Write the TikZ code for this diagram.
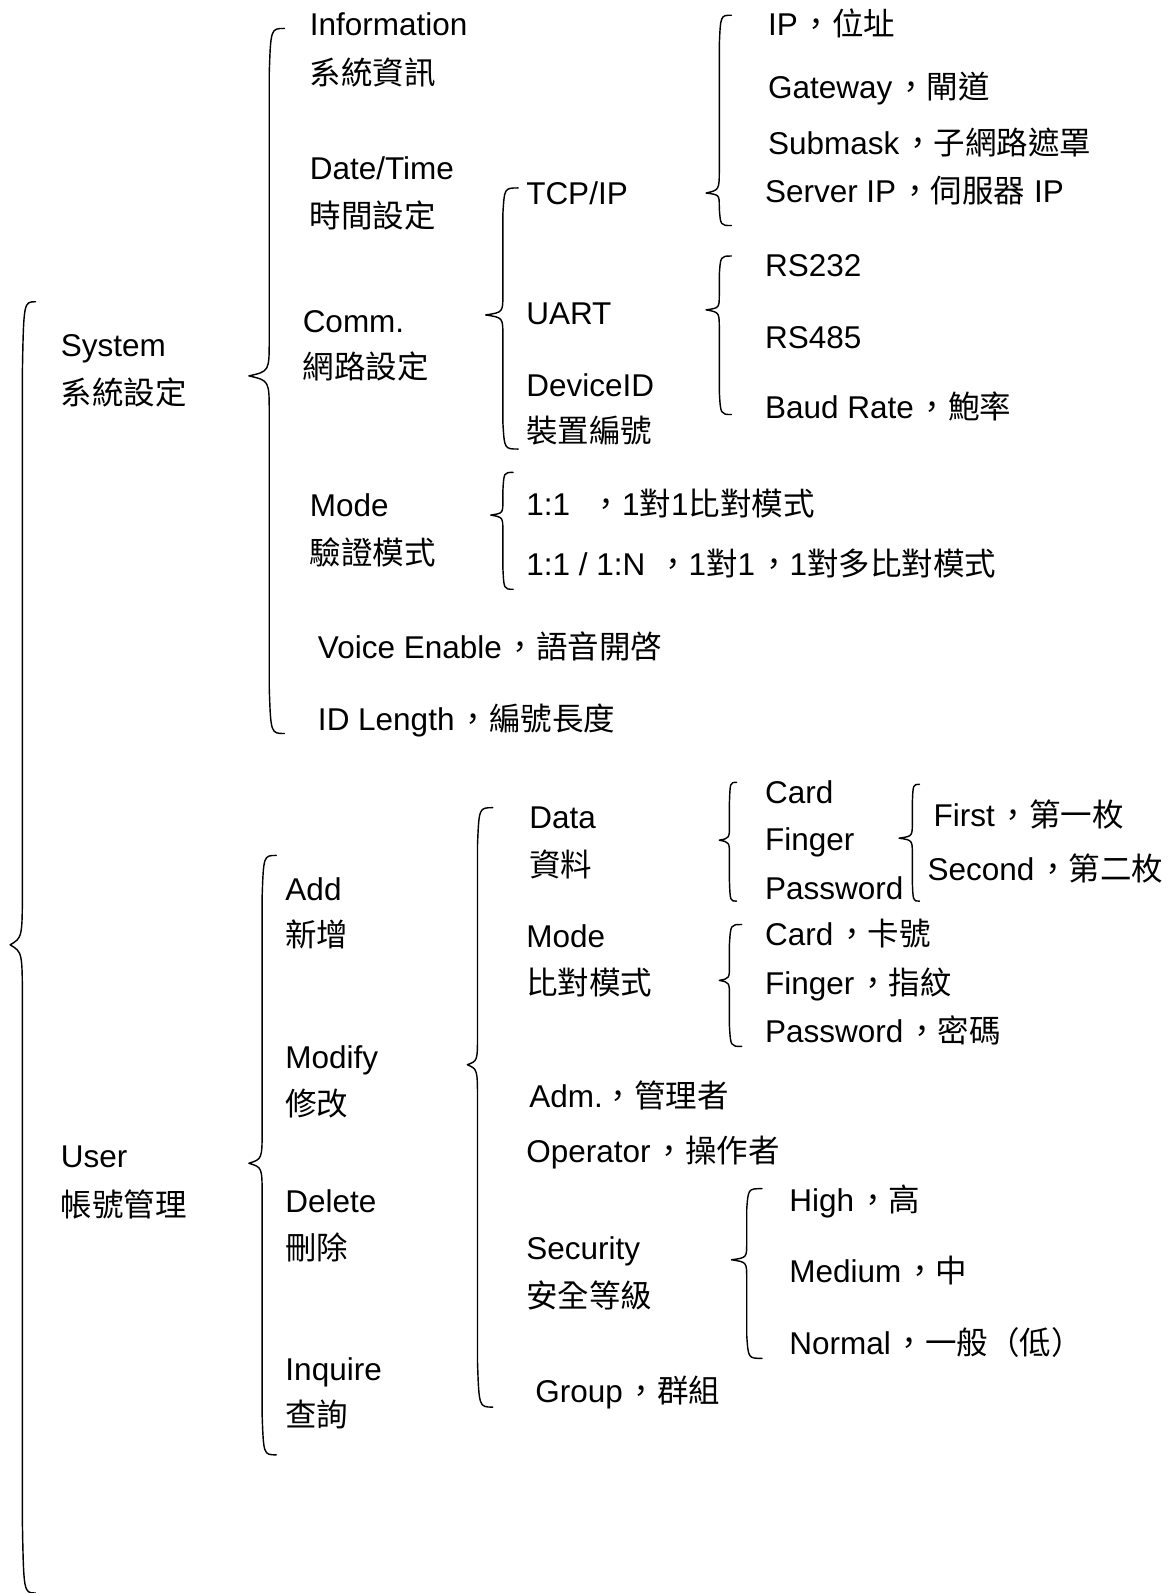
\documentclass[tikz,border=0pt]{standalone}
\usepackage{fontspec}
\setmainfont{Liberation Sans}
\newfontfamily\cjk{Noto Sans CJK TC}
\newcommand\zh[1]{{\cjk #1}}
\newcommand\cm{\kern3pt{\cjk ，}}
\newcommand\bracel[6]{% #1 line x, #2 top, #3 tip, #4 bottom, #5 hook width, #6 tip depth
  \pgfmathsetmacro\bra{14+0.09*(#3-#2)}%
  \pgfmathsetmacro\brb{14+0.09*(#4-#3)}%
  \draw[bracestyle] (#1+#5,#2) .. controls (#1+0.1*#5,#2) .. (#1,#2+\bra) -- (#1,#3-0.8*\bra)
     .. controls (#1,#3-0.1*\bra) .. (#1-#6,#3) .. controls (#1,#3+0.1*\brb) .. (#1,#3+0.8*\brb)
     -- (#1,#4-\brb) .. controls (#1+0.1*#5,#4) .. (#1+#5,#4);
}
\tikzset{
  txt/.style={anchor=base west, inner sep=0pt, outer sep=0pt, font=\fontsize{31}{37}\selectfont},
  bracestyle/.style={draw=black, line width=1.4pt, line cap=round, line join=round}
}
\begin{document}
\begin{tikzpicture}[x=1pt,y=-1pt]
\useasboundingbox (0,0) rectangle (1154,1568);
% level 1
\node[txt] (sys) at (60,351) {System};
\node[txt] (syszh) at (60,398) {\zh{系統設定}};
\node[txt] (user) at (60,1149) {User};
\node[txt] (userzh) at (60,1197) {\zh{帳號管理}};
\bracel{22}{297}{930}{1568}{13}{12}
% system children
\bracel{265}{28}{370}{722}{15}{20}
\node[txt] (info) at (305,35) {Information};
\node[txt] (infozh) at (305,83) {\zh{系統資訊}};
\node[txt] (date) at (305,177) {Date/Time};
\node[txt] (datezh) at (305,224) {\zh{時間設定}};
\node[txt] (comm) at (298,327) {Comm.};
\node[txt] (commzh) at (298,373) {\zh{網路設定}};
\node[txt] (mode) at (305,508) {Mode};
\node[txt] (modezh) at (305,556) {\zh{驗證模式}};
\node[txt] (voice) at (313,648) {Voice Enable\cm\zh{語音開啓}};
\node[txt] (idlen) at (313,719) {ID Length\cm\zh{編號長度}};
% comm children
\bracel{495}{185}{310}{442}{15}{17}
\node[txt] (tcp) at (518,201) {TCP/IP};
\node[txt] (uart) at (518,319) {UART};
\node[txt] (dev) at (518,390) {DeviceID};
\node[txt] (devzh) at (518,436) {\zh{裝置編號}};
% tcp children
\bracel{708}{15}{190}{222}{12}{13}
\node[txt] (ip) at (756,35) {IP\cm\zh{位址}};
\node[txt] (gw) at (756,97) {Gateway\cm\zh{閘道}};
\node[txt] (sub) at (756,152) {Submask\cm\zh{子網路遮罩}};
\node[txt] (srv) at (753,199) {Server IP\cm\zh{伺服器} IP};
% uart children
\bracel{708}{252}{305}{408}{12}{13}
\node[txt] (rs232) at (753,272) {RS232};
\node[txt] (rs485) at (753,343) {RS485};
\node[txt] (baud) at (753,412) {Baud Rate\cm\zh{鮑率}};
% mode children
\bracel{495}{465}{507}{580}{10}{12}
\node[txt] (m11) at (518,507) {1:1\ \ \cm 1\zh{對}1\zh{比對模式}};
\node[txt] (m1n) at (518,566) {1:1 / 1:N \cm 1\zh{對}1\cm 1\zh{對多比對模式}};
% user children
\bracel{258}{842}{1145}{1432}{14}{13}
\node[txt] (add) at (281,886) {Add};
\node[txt] (addzh) at (281,932) {\zh{新增}};
\node[txt] (mod) at (281,1052) {Modify};
\node[txt] (modzh) at (281,1098) {\zh{修改}};
\node[txt] (del) at (281,1193) {Delete};
\node[txt] (delzh) at (281,1240) {\zh{刪除}};
\node[txt] (inq) at (281,1359) {Inquire};
\node[txt] (inqzh) at (281,1404) {\zh{查詢}};
% operations children
\bracel{470}{795}{1048}{1385}{15}{10}
\node[txt] (data) at (521,815) {Data};
\node[txt] (datazh) at (521,863) {\zh{資料}};
\node[txt] (umode) at (518,933) {Mode};
\node[txt] (umodezh) at (518,979) {\zh{比對模式}};
\node[txt] (adm) at (521,1090) {Adm.{\cjk ，管理者}};
\node[txt] (op) at (518,1144) {Operator\cm\zh{操作者}};
\node[txt] (sec) at (518,1240) {Security};
\node[txt] (seczh) at (518,1287) {\zh{安全等級}};
\node[txt] (grp) at (527,1380) {Group\cm\zh{群組}};
% data children
\bracel{718}{770}{827}{887}{7}{10}
\node[txt] (card) at (753,791) {Card};
\node[txt] (fing) at (753,837) {Finger};
\node[txt] (pwd) at (753,885) {Password};
\bracel{898}{772}{825}{887}{7}{13}
\node[txt] (first) at (919,814) {First\cm\zh{第一枚}};
\node[txt] (second) at (913,867) {Second\cm\zh{第二枚}};
% mode children (user)
\bracel{718}{910}{965}{1030}{12}{10}
\node[txt] (mcard) at (753,931) {Card\cm\zh{卡號}};
\node[txt] (mfing) at (753,979) {Finger\cm\zh{指紋}};
\node[txt] (mpwd) at (753,1026) {Password\cm\zh{密碼}};
% security children
\bracel{735}{1170}{1240}{1337}{15}{15}
\node[txt] (high) at (777,1192) {High\cm\zh{高}};
\node[txt] (med) at (777,1262) {Medium\cm\zh{中}};
\node[txt] (norm) at (777,1333) {Normal\cm\zh{一般（低）}};
\end{tikzpicture}
\end{document}
